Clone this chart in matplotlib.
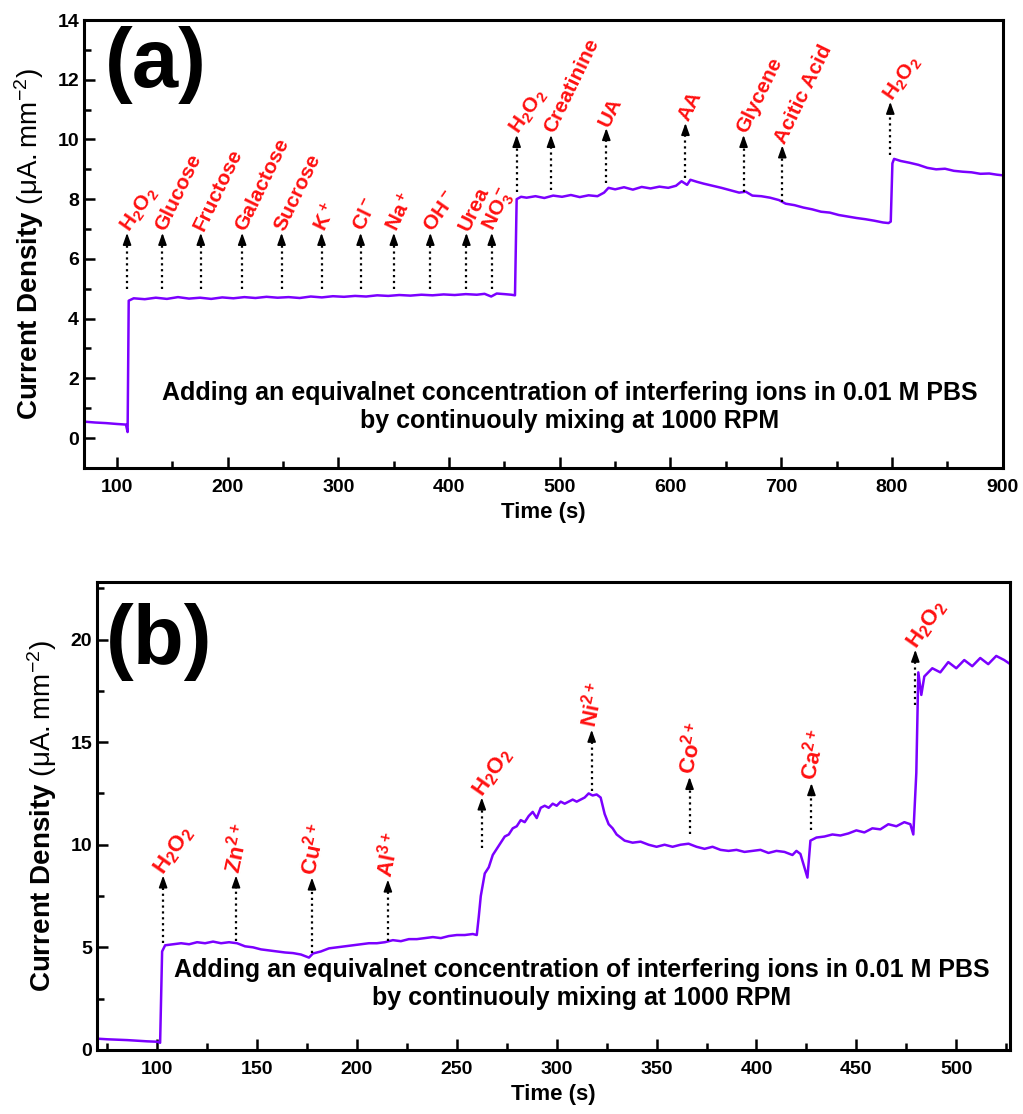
import matplotlib
matplotlib.use("Agg")
import matplotlib.pyplot as plt
from matplotlib.ticker import MultipleLocator

plt.rcParams['font.family'] = ['Liberation Sans', 'DejaVu Sans']
plt.rcParams['mathtext.fontset'] = 'custom'
plt.rcParams['mathtext.rm'] = 'Liberation Sans'
plt.rcParams['mathtext.default'] = 'regular'

# ---- panel (a) data ----
t_a = [70, 80, 90, 100, 108, 109.5, 110.5, 115, 125, 135, 145, 155, 165, 175, 185, 195,
       205, 215, 225, 235, 245, 255, 265, 275, 285, 295, 305, 315, 325, 335, 345, 355,
       365, 375, 385, 395, 405, 415, 425, 432, 438, 443, 450, 456, 459.5, 461, 465,
       470, 478, 486, 494, 502, 510, 518, 526, 534, 540, 544, 550, 558, 566, 574, 582,
       590, 598, 605, 610, 615, 618, 624, 630, 638, 646, 654, 662, 668, 674, 682, 690,
       698, 704, 712, 720, 728, 736, 744, 752, 760, 768, 776, 784, 792, 797, 799, 800.5,
       802, 808, 816, 824, 832, 840, 848, 856, 864, 872, 880, 888, 895, 900]
j_a = [0.55, 0.52, 0.50, 0.47, 0.45, 0.20, 4.60, 4.68, 4.65, 4.70, 4.66, 4.72, 4.67, 4.70, 4.66, 4.71,
       4.68, 4.72, 4.69, 4.73, 4.70, 4.72, 4.69, 4.74, 4.71, 4.75, 4.73, 4.76, 4.74, 4.78, 4.76, 4.79,
       4.77, 4.80, 4.78, 4.81, 4.79, 4.82, 4.80, 4.83, 4.74, 4.84, 4.82, 4.80, 4.78, 8.00, 8.08,
       8.05, 8.10, 8.04, 8.12, 8.08, 8.14, 8.07, 8.13, 8.10, 8.22, 8.38, 8.33, 8.40, 8.32, 8.41, 8.36,
       8.42, 8.38, 8.45, 8.60, 8.48, 8.65, 8.58, 8.52, 8.45, 8.38, 8.30, 8.22, 8.25, 8.12, 8.10, 8.05,
       7.97, 7.85, 7.80, 7.72, 7.66, 7.58, 7.55, 7.47, 7.42, 7.37, 7.33, 7.28, 7.22, 7.20, 7.25, 9.20,
       9.35, 9.28, 9.22, 9.15, 9.05, 9.00, 9.02, 8.95, 8.92, 8.90, 8.85, 8.86, 8.82, 8.80]

lab_a = ['H$_2$O$_2$', 'Glucose', 'Fructose', 'Galactose', 'Sucrose', 'K$^+$', 'Cl$^-$',
         'Na$^+$', 'OH$^-$', 'Urea', 'NO$_3^-$',
         'H$_2$O$_2$', 'Creatinine', 'UA', 'AA', 'Glycene', 'Acitic Acid', 'H$_2$O$_2$']
add_a = [109, 141, 175.6, 213, 248.6, 284.7, 320, 350, 383, 415.6, 438.5,
         461, 492, 542, 613.5, 666, 701, 798.6]
lo_a = [5.0, 5.0, 5.0, 5.0, 5.0, 5.0, 5.0, 5.0, 5.0, 5.0, 5.0,
        8.25, 8.3, 8.54, 8.7, 8.25, 7.92, 9.48]
hi_a = [6.87, 6.87, 6.87, 6.87, 6.87, 6.87, 6.87, 6.87, 6.87, 6.87, 6.87,
        10.15, 10.15, 10.38, 10.55, 10.15, 9.8, 11.26]

# ---- panel (b) data ----
t_b = [70, 75, 80, 85, 90, 95, 100, 101.5, 102, 102.5, 104, 108, 112, 116, 120, 124, 128, 132,
       136, 140, 144, 148, 152, 156, 160, 164, 168, 172, 176, 178, 182, 186, 190, 194, 198,
       202, 206, 210, 214, 218, 222, 226, 230, 234, 238, 242, 246, 250, 254, 258, 260, 261,
       262, 264, 266, 268, 270, 272, 274, 276, 278, 280, 282, 284, 286, 288, 290, 292, 294,
       296, 298, 300, 302, 304, 306, 308, 310, 312, 314, 316, 318, 320, 322, 324, 326, 328,
       330, 334, 338, 342, 346, 350, 354, 358, 362, 366, 370, 374, 378, 382, 386, 390, 394,
       398, 402, 406, 410, 414, 418, 420, 422, 424, 425.5, 427, 430, 434, 438, 442, 446, 450,
       454, 458, 462, 466, 470, 474, 477, 478.5, 480, 481, 482.5, 484, 488, 492, 496, 500,
       504, 508, 512, 516, 520, 524, 527]
j_b = [0.55, 0.52, 0.50, 0.48, 0.45, 0.42, 0.40, 0.35, 2.5, 4.8, 5.1, 5.15, 5.2, 5.15, 5.25, 5.2, 5.28, 5.2,
       5.25, 5.2, 5.05, 5.0, 4.9, 4.85, 4.8, 4.75, 4.72, 4.65, 4.5, 4.7, 4.8, 4.95, 5.0, 5.05, 5.1,
       5.15, 5.2, 5.2, 5.25, 5.35, 5.3, 5.4, 5.4, 5.45, 5.5, 5.45, 5.55, 5.6, 5.6, 5.65, 5.6, 6.5,
       7.5, 8.6, 8.9, 9.5, 9.8, 10.1, 10.4, 10.5, 10.8, 10.9, 11.2, 11.1, 11.4, 11.6, 11.3, 11.8, 11.9,
       11.8, 12.0, 11.9, 12.1, 12.0, 12.1, 12.2, 12.1, 12.2, 12.3, 12.5, 12.4, 12.45, 12.3, 11.5, 11.0, 10.8,
       10.5, 10.2, 10.1, 10.15, 10.0, 9.9, 10.0, 9.9, 10.0, 10.05, 9.9, 9.8, 9.9, 9.75, 9.7, 9.75, 9.65,
       9.7, 9.75, 9.6, 9.7, 9.65, 9.5, 9.7, 9.55, 8.9, 8.4, 10.2, 10.35, 10.4, 10.5, 10.45, 10.55, 10.7,
       10.6, 10.8, 10.75, 11.0, 10.9, 11.1, 11.0, 10.5, 13.5, 18.4, 17.3, 18.2, 18.6, 18.4, 18.9, 18.6,
       19.0, 18.7, 19.1, 18.8, 19.2, 19.0, 18.8]

lab_b = ['H$_2$O$_2$', 'Zn$^{2+}$', 'Cu$^{2+}$', 'Al$^{3+}$', 'H$_2$O$_2$',
         'Ni$^{2+}$', 'Co$^{2+}$', 'Ca$^{2+}$', 'H$_2$O$_2$']
add_b = [103, 139.5, 177.5, 215.5, 262.5, 317.5, 366.5, 427.5, 479.5]
lo_b = [5.2, 5.3, 4.7, 5.3, 9.85, 12.6, 10.5, 10.7, 16.8]
hi_b = [8.5, 8.5, 8.4, 8.3, 12.3, 15.6, 13.3, 13.0, 19.5]

note = ('Adding an equivalnet concentration of interfering ions in 0.01 M PBS\n'
        'by continuouly mixing at 1000 RPM')
ylab = 'Current Density $\\mathrm{(\\mu A.mm^{-2})}$'
purple = '#7B00FF'


def style(ax):
    for s in ax.spines.values():
        s.set_linewidth(2.2)
    ax.tick_params(which='both', direction='in', top=False, right=False, width=1.8,
                   labelsize=14)
    ax.tick_params(which='major', length=8)
    ax.tick_params(which='minor', length=5)
    ax.tick_params(axis='x', pad=8)
    for lb in ax.get_xticklabels() + ax.get_yticklabels():
        lb.set_fontweight('bold')


def arrows(ax, xs, lo, hi, labels, head, rot, fs):
    for x, a, b, s, r in zip(xs, lo, hi, labels, rot):
        ax.plot([x, x], [a, b - head * 0.6], ls=':', color='k', lw=1.6)
        ax.annotate('', xy=(x, b), xytext=(x, b - head),
                    arrowprops=dict(arrowstyle='-|>,head_length=0.7,head_width=0.25',
                                    color='k', lw=1.2, shrinkA=0, shrinkB=0))
        ax.text(x - 2, b + head * 0.25, s, color='#FF1010', fontsize=fs, fontweight='bold',
                rotation=r, rotation_mode='anchor', ha='left', va='center')


fig = plt.figure(figsize=(10.23, 11.14), dpi=100)

ax1 = fig.add_axes([0.082, 0.580, 0.898, 0.402])
ax1.plot(t_a, j_a, color=purple, lw=1.8)
ax1.set_xlim(70, 900)
ax1.set_ylim(-1, 14)
ax1.xaxis.set_major_locator(MultipleLocator(100))
ax1.xaxis.set_minor_locator(MultipleLocator(50))
ax1.yaxis.set_major_locator(MultipleLocator(2))
ax1.yaxis.set_minor_locator(MultipleLocator(1))
rot_a = [55 if 'H$' in s else 64 for s in lab_a]
arrows(ax1, add_a, lo_a, hi_a, lab_a, 0.4, rot_a, 15)
ax1.text(0.023, 0.9, '(a)', transform=ax1.transAxes, fontsize=60, fontweight='bold',
         va='center', ha='left')
ax1.text(0.529, 0.136, note, transform=ax1.transAxes, fontsize=18, fontweight='bold',
         ha='center', va='center', linespacing=1.2)
ax1.set_xlabel('Time (s)', fontsize=16, fontweight='bold', labelpad=4)
ax1.set_ylabel(ylab, fontsize=20, fontweight='bold', labelpad=8)
style(ax1)

ax2 = fig.add_axes([0.095, 0.0575, 0.8925, 0.420])
ax2.plot(t_b, j_b, color=purple, lw=1.8)
ax2.set_xlim(70, 527)
ax2.set_ylim(0, 22.8)
ax2.xaxis.set_major_locator(MultipleLocator(50))
ax2.xaxis.set_minor_locator(MultipleLocator(25))
ax2.yaxis.set_major_locator(MultipleLocator(5))
ax2.yaxis.set_minor_locator(MultipleLocator(2.5))
rot_b = [55 if 'H$' in s else 78 for s in lab_b]
arrows(ax2, add_b, lo_b, hi_b, lab_b, 0.6, rot_b, 16)
ax2.text(0.009, 0.872, '(b)', transform=ax2.transAxes, fontsize=60, fontweight='bold',
         va='center', ha='left')
ax2.text(0.531, 0.141, note, transform=ax2.transAxes, fontsize=18, fontweight='bold',
         ha='center', va='center', linespacing=1.2)
ax2.set_xlabel('Time (s)', fontsize=16, fontweight='bold', labelpad=4)
ax2.set_ylabel(ylab, fontsize=20, fontweight='bold', labelpad=8)
style(ax2)

fig.savefig('out.png', dpi=100)
